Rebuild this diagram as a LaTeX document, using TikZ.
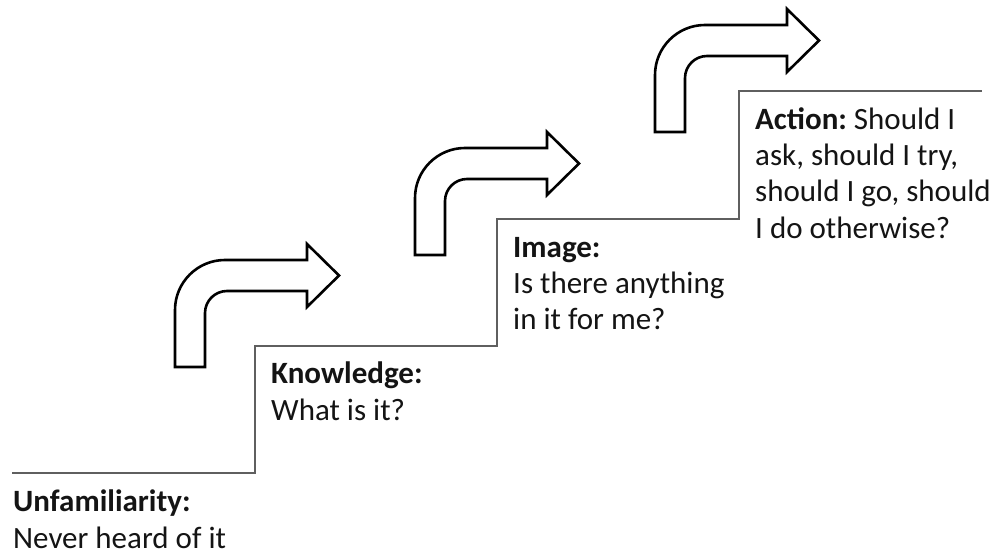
\documentclass[tikz,border=0pt]{standalone}
\usepackage{fontspec}
\setmainfont{Carlito}
\usepackage{xcolor}
\usetikzlibrary{positioning}
\definecolor{GrisEscalon}{RGB}{95,95,95}
\definecolor{TextoGris}{RGB}{20,20,20}

\begin{document}
\begin{tikzpicture}[x=1pt,y=-1pt,
  flecha/.style={line width=2.6pt,line join=miter,draw=black,fill=white},
  texto/.style={anchor=base west,inner sep=0pt,align=left,text=TextoGris,font=\fontsize{31}{36.3}\selectfont\frenchspacing}]
  \useasboundingbox (0,0) rectangle (993,553);

  % escalones
  \coordinate (E0) at (12,473);
  \coordinate (E1) at (255,473);
  \coordinate (E2) at (255,346);
  \coordinate (E3) at (497,346);
  \coordinate (E4) at (497,219);
  \coordinate (E5) at (739,219);
  \coordinate (E6) at (739,91);
  \coordinate (E7) at (982,91);
  \draw[GrisEscalon,line width=1.3pt] (E0) -- (E1) -- (E2) -- (E3) -- (E4) -- (E5) -- (E6) -- (E7);

  % flechas
  \foreach \x/\y in {175/367,415/255,655/132}
    \draw[flecha,shift={(\x,\y)}] (0,0) -- (0,-57)
      .. controls (0,-84.6) and (22.4,-107) .. (50,-107) -- (132,-107) -- (132,-123)
      -- (164,-91.5) -- (132,-60) -- (132,-76) -- (52,-76)
      .. controls (39.9,-76) and (30,-66.1) .. (30,-54) -- (30,0) -- cycle;

  % textos (anclados en la linea base de la ultima linea)
  \node[texto] (unfam) at (13,548) {\textbf{Unfamiliarity:}\\Never heard of it};
  \node[texto] (know) at (271,420) {\textbf{Knowledge:}\\What is it?};
  \node[texto] (image) at (513,330) {\textbf{Image:}\\Is there anything\\in it for me?};
  \node[texto] (action) at (755,238.3) {\textbf{Action:} Should I\\ask, should I try,\\should I go, should\\I do otherwise?};
\end{tikzpicture}
\end{document}
